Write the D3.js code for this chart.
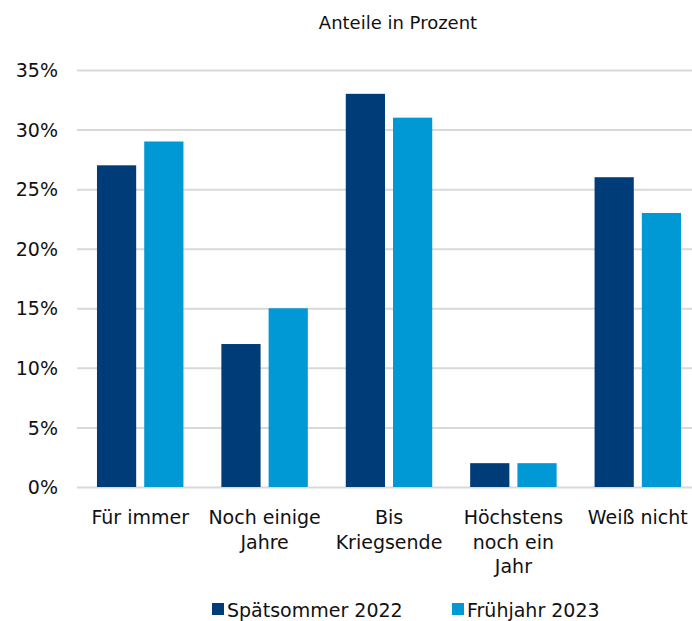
<!DOCTYPE html>
<html><head><meta charset="utf-8">
<script src="https://cdn.jsdelivr.net/npm/d3@7"></script>
<style>
html,body{margin:0;padding:0;background:#fff;}
svg text{font-family:"DejaVu Sans",sans-serif;fill:#111;}
</style></head>
<body>
<svg id="c" width="692" height="621"></svg>
<script>
const categories = [["Für immer"],["Noch einige","Jahre"],["Bis","Kriegsende"],["Höchstens","noch ein","Jahr"],["Weiß nicht"]];
const seriesNames = ["Spätsommer 2022","Frühjahr 2023"];
const spaetsommer2022 = [27,12,33,2,26];
const fruehjahr2023 = [29,15,31,2,23];
const yTicks = [0,5,10,15,20,25,30,35];
const colors = ["#003c78","#0099d6"];
const title = "Anteile in Prozent";

const svg = d3.select("#c");
const catKeys = categories.map(c=>c.join(" "));
const x = d3.scaleBand().domain(catKeys).range([78,700]).paddingInner(0.305).paddingOuter(0.1525);
const x1 = d3.scaleBand().domain([0,1]).range([0,x.bandwidth()]).paddingInner(0.17);
const y = d3.scaleLinear().domain([0,35]).range([487,70]);

svg.append("text").attr("x",398).attr("y",29).attr("text-anchor","middle").attr("font-size",18).text(title);

const yAxis = d3.axisLeft(y).tickValues(yTicks).tickFormat(d=>d+"%").tickSize(-(692-77)).tickPadding(20);
const ga = svg.append("g").attr("transform","translate(77,0)").call(yAxis);
ga.select(".domain").remove();
ga.selectAll(".tick line").attr("stroke","#d9d9d9").attr("stroke-width",2);
ga.selectAll(".tick text").attr("font-size",19).attr("fill","#111").attr("dy","0.35em").attr("x",-19);

const series = [spaetsommer2022, fruehjahr2023];
series.forEach((vals,si)=>{
  svg.append("g").selectAll("rect").data(vals).join("rect")
    .attr("x",(d,i)=>x(catKeys[i])+x1(si))
    .attr("width",x1.bandwidth())
    .attr("y",d=>y(d))
    .attr("height",d=>y(0)-y(d))
    .attr("fill",colors[si]);
});

const xl = svg.append("g");
categories.forEach((lines,i)=>{
  const t = xl.append("text").attr("text-anchor","middle").attr("font-size",19)
    .attr("x",x(catKeys[i])+x.bandwidth()/2).attr("y",524);
  lines.forEach((l,j)=>t.append("tspan").attr("x",x(catKeys[i])+x.bandwidth()/2).attr("dy",j===0?0:24.5).text(l));
});

const legX = [212,452];
seriesNames.forEach((n,i)=>{
  svg.append("rect").attr("x",legX[i]).attr("y",603).attr("width",12).attr("height",12).attr("fill",colors[i]);
  svg.append("text").attr("x",legX[i]+15).attr("y",617).attr("font-size",19).text(n);
});
</script>
</body></html>
